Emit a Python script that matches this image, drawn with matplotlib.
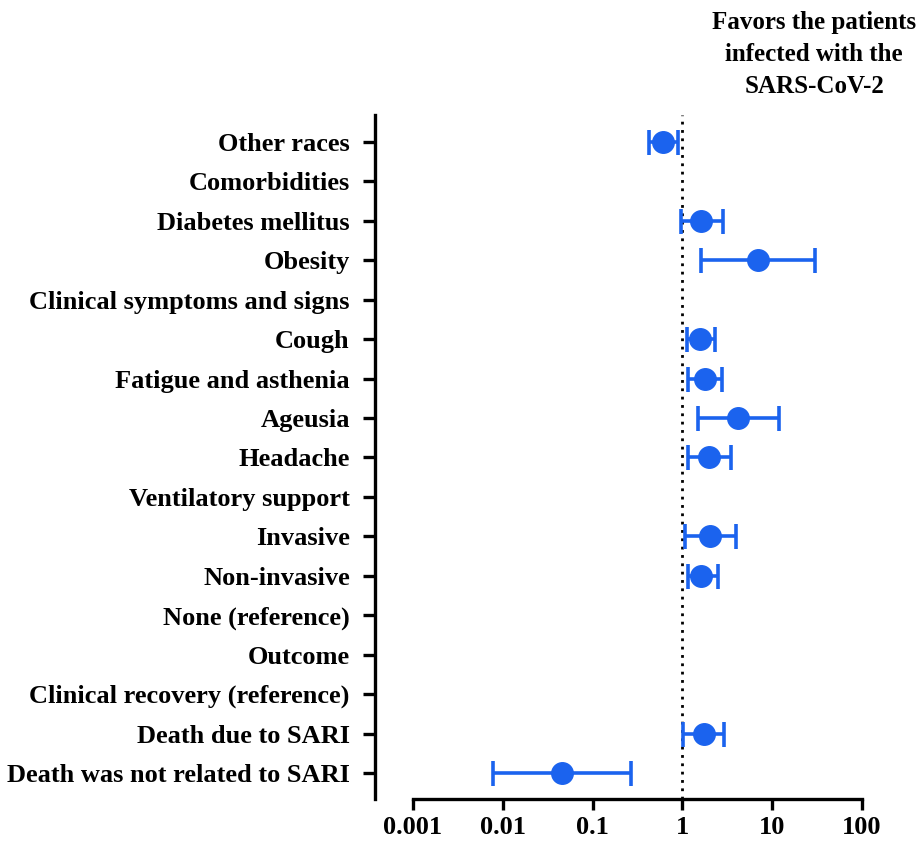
import numpy as np
import matplotlib.pyplot as plt

plt.rcParams['font.family'] = ['Liberation Serif', 'DejaVu Serif']
plt.rcParams['font.weight'] = 'bold'

categories = [
    'Other races', 'Comorbidities', 'Diabetes mellitus', 'Obesity',
    'Clinical symptoms and signs', 'Cough', 'Fatigue and asthenia', 'Ageusia',
    'Headache', 'Ventilatory support', 'Invasive', 'Non-invasive',
    'None (reference)', 'Outcome', 'Clinical recovery (reference)',
    'Death due to SARI', 'Death was not related to SARI',
]
# odds ratio with 95% CI; nan = header / reference row
odds = [0.61, np.nan, 1.63, 7.0, np.nan, 1.59, 1.78, 4.2, 1.99, np.nan,
        2.02, 1.63, np.nan, np.nan, np.nan, 1.75, 0.046]
ci_low = [0.42, np.nan, 0.96, 1.63, np.nan, 1.13, 1.16, 1.50, 1.14, np.nan,
          1.06, 1.14, np.nan, np.nan, np.nan, 1.02, 0.0078]
ci_high = [0.90, np.nan, 2.85, 30.0, np.nan, 2.30, 2.73, 12.0, 3.47, np.nan,
           3.92, 2.46, np.nan, np.nan, np.nan, 2.93, 0.27]
xticks = [0.001, 0.01, 0.1, 1, 10, 100]
xticklabels = ['0.001', '0.01', '0.1', '1', '10', '100']

blue = '#1b63ee'
odds = np.array(odds)
lo = odds - np.array(ci_low)
hi = np.array(ci_high) - odds
y = np.arange(len(categories))

fig = plt.figure(figsize=(9.19, 8.43), dpi=100)
ax = fig.add_axes([413 / 919, 44 / 843, 449 / 919, 684 / 843])

ax.axvline(1, color='black', ls=(0, (1, 2)), lw=2, zorder=1)
ax.errorbar(odds, y, xerr=[lo, hi], fmt='o', color=blue, ms=15.5,
            elinewidth=2.6, capsize=9, capthick=2.6, zorder=3)

ax.set_xscale('log')
ax.set_xlim(0.001, 100)
ax.set_ylim(16.66, -0.68)
ax.set_xticks(xticks)
ax.set_xticklabels(xticklabels)
ax.minorticks_off()
ax.set_yticks(y)
ax.set_yticklabels(categories)

for side in ['top', 'right']:
    ax.spines[side].set_visible(False)
ax.spines['left'].set_position(('outward', 27.5))
ax.spines['left'].set_linewidth(2.4)
ax.spines['bottom'].set_linewidth(2.4)
ax.tick_params(axis='y', length=9, width=2.4, pad=9, labelsize=19)
ax.tick_params(axis='x', length=8, width=2.4, pad=4, labelsize=19)

fig.text(0.886, 0.987, 'Favors the patients\ninfected with the\nSARS-CoV-2',
         ha='center', va='top', fontsize=18, fontweight='bold',
         linespacing=1.5)

fig.savefig('out.png', dpi=100)
